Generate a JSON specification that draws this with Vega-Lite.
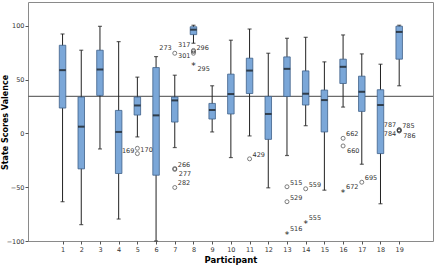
{
  "$schema": "https://vega.github.io/schema/vega-lite/v6.json",
  "width": 405,
  "height": 239,
  "autosize": {"type": "none"},
  "padding": {"left": 28, "top": 2, "right": 1, "bottom": 25},
  "background": "white",
  "config": {
    "view": {"stroke": "#8a8a8a", "strokeWidth": 1},
    "font": "DejaVu Sans",
    "axis": {"labelFont": "DejaVu Sans", "titleFont": "DejaVu Sans", "grid": false, "domain": false, "labelFontSize": 6.5, "labelColor": "#333", "tickColor": "#555", "tickSize": 3},
    "text": {"fill": "#333"}
  },
  "datasets": {
    "boxes": [
      {"participant": 1, "lower": -63.5, "q1": 23.5, "median": 58.7, "q3": 81.8, "upper": 92.3},
      {"participant": 2, "lower": -84.8, "q1": -33, "median": 6.2, "q3": 33.7, "upper": 77.2},
      {"participant": 3, "lower": -14.5, "q1": 35.2, "median": 59.3, "q3": 77.2, "upper": 99.4},
      {"participant": 4, "lower": -79.6, "q1": -37.3, "median": 1.3, "q3": 21.3, "upper": 85.2},
      {"participant": 5, "lower": -3.3, "q1": 17, "median": 25.9, "q3": 33.7, "upper": 52.2},
      {"participant": 6, "lower": -100, "q1": -38.9, "median": 16.7, "q3": 61.1, "upper": 71.3},
      {"participant": 7, "lower": -13.2, "q1": 10.5, "median": 30.6, "q3": 33.7, "upper": 54},
      {"participant": 8, "lower": 83.7, "q1": 91.7, "median": 96.3, "q3": 99, "upper": 100.4},
      {"participant": 9, "lower": 1.3, "q1": 13.3, "median": 21.7, "q3": 27.8, "upper": 44.2},
      {"participant": 10, "lower": -22.5, "q1": 18, "median": 36.5, "q3": 55, "upper": 86.5},
      {"participant": 11, "lower": -2.4, "q1": 37, "median": 58.3, "q3": 69.8, "upper": 96.9},
      {"participant": 12, "lower": -50.6, "q1": -5.6, "median": 18, "q3": 34.3, "upper": 74.4},
      {"participant": 13, "lower": -20.6, "q1": 34.3, "median": 59.9, "q3": 71, "upper": 88.3},
      {"participant": 14, "lower": 7.1, "q1": 26.3, "median": 36.8, "q3": 58, "upper": 89.2},
      {"participant": 15, "lower": -52.8, "q1": 1.3, "median": 30.9, "q3": 40.2, "upper": 66.4},
      {"participant": 16, "lower": 24.4, "q1": 46.3, "median": 61.8, "q3": 68.9, "upper": 91.4},
      {"participant": 17, "lower": -28.7, "q1": 20.4, "median": 38.6, "q3": 53.1, "upper": 73.8},
      {"participant": 18, "lower": -65.4, "q1": -18.8, "median": 26.3, "q3": 40.5, "upper": 64.2},
      {"participant": 19, "lower": 44.2, "q1": 68.9, "median": 94.2, "q3": 99.5, "upper": 100.4}
    ],
    "outliers": [
      {"participant": 5, "value": -13.9, "id": "169", "kind": "outlier"},
      {"participant": 5, "value": -18.8, "id": "170", "kind": "outlier"},
      {"participant": 7, "value": 74.4, "id": "273", "kind": "outlier"},
      {"participant": 7, "value": -32.7, "id": "266", "kind": "outlier"},
      {"participant": 7, "value": -33.5, "id": "277", "kind": "outlier"},
      {"participant": 7, "value": -50.3, "id": "282", "kind": "outlier"},
      {"participant": 8, "value": 77, "id": "317", "kind": "outlier"},
      {"participant": 8, "value": 76, "id": "296", "kind": "outlier"},
      {"participant": 8, "value": 74.4, "id": "301", "kind": "outlier"},
      {"participant": 8, "value": 64.5, "id": "295", "kind": "extreme"},
      {"participant": 11, "value": -23.7, "id": "429", "kind": "outlier"},
      {"participant": 13, "value": -49.6, "id": "515", "kind": "outlier"},
      {"participant": 13, "value": -63.5, "id": "529", "kind": "outlier"},
      {"participant": 13, "value": -92.2, "id": "516", "kind": "extreme"},
      {"participant": 14, "value": -51.5, "id": "559", "kind": "outlier"},
      {"participant": 14, "value": -82.4, "id": "555", "kind": "extreme"},
      {"participant": 16, "value": -4.6, "id": "662", "kind": "outlier"},
      {"participant": 16, "value": -11.7, "id": "660", "kind": "outlier"},
      {"participant": 16, "value": -53.7, "id": "672", "kind": "extreme"},
      {"participant": 17, "value": -45.4, "id": "695", "kind": "outlier"},
      {"participant": 19, "value": 3.4, "id": "787", "kind": "outlier"},
      {"participant": 19, "value": 3.2, "id": "785", "kind": "outlier"},
      {"participant": 19, "value": 2.4, "id": "784", "kind": "outlier"},
      {"participant": 19, "value": 2.2, "id": "786", "kind": "outlier"}
    ],
    "reference": [{"value": 34.3}]
  },
  "encoding": {
    "x": {"field": "participant", "type": "quantitative", "scale": {"domain": [-0.58, 20.54], "nice": false, "zero": false},
          "axis": {"values": [1,2,3,4,5,6,7,8,9,10,11,12,13,14,15,16,17,18,19], "title": "Participant", "titleFontSize": 8.5, "titleFontWeight": "bold", "titlePadding": 3, "labelPadding": 2, "tickCount": 19}}
  },
  "layer": [
    {
      "data": {"name": "reference"},
      "mark": {"type": "rule", "color": "#6b6b6b", "strokeWidth": 1.2},
      "encoding": {"x": null, "y": {"field": "value", "type": "quantitative", "scale": {"domain": [-100, 122], "nice": false},
        "axis": {"values": [-100, -50, 0, 50, 100], "title": "State Scores Valence", "titleFontSize": 8, "titleFontWeight": "bold", "titleBaseline": "top", "titleX": -27, "titleY": 120, "titleAngle": -90, "labelPadding": 1}}}
    },
    {
      "data": {"name": "boxes"},
      "mark": {"type": "rule", "color": "#222", "strokeWidth": 1},
      "encoding": {"y": {"field": "lower", "type": "quantitative"}, "y2": {"field": "upper"}}
    },
    {
      "data": {"name": "boxes"},
      "mark": {"type": "tick", "color": "#222", "size": 4, "thickness": 1.2, "orient": "horizontal"},
      "encoding": {"y": {"field": "upper", "type": "quantitative"}}
    },
    {
      "data": {"name": "boxes"},
      "mark": {"type": "tick", "color": "#222", "size": 4, "thickness": 1.2, "orient": "horizontal"},
      "encoding": {"y": {"field": "lower", "type": "quantitative"}}
    },
    {
      "data": {"name": "boxes"},
      "mark": {"type": "bar", "fill": "#7ba7d8", "stroke": "#3f6189", "strokeWidth": 0.8, "width": 6.5},
      "encoding": {"y": {"field": "q1", "type": "quantitative"}, "y2": {"field": "q3"}}
    },
    {
      "data": {"name": "boxes"},
      "mark": {"type": "tick", "color": "#111", "size": 6.5, "thickness": 2, "orient": "horizontal"},
      "encoding": {"y": {"field": "median", "type": "quantitative"}}
    },
    {
      "data": {"name": "outliers"},
      "transform": [{"filter": "datum.kind === 'outlier'"}],
      "mark": {"type": "point", "shape": "circle", "filled": false, "size": 16, "stroke": "#333", "strokeWidth": 0.9},
      "encoding": {"y": {"field": "value", "type": "quantitative"}}
    },
    {
      "data": {"name": "outliers"},
      "transform": [{"filter": "datum.kind === 'extreme'"}],
      "mark": {"type": "text", "text": "*", "fontSize": 9, "fill": "#222", "baseline": "middle", "dy": 2},
      "encoding": {"y": {"field": "value", "type": "quantitative"}}
    },
    {
      "data": {"name": "outliers"},
      "transform": [{"filter": {"field": "id", "oneOf": ["170", "266", "282", "296", "429", "515", "529", "516", "559", "555", "662", "672", "695", "785"]}}],
      "mark": {"type": "text", "align": "left", "baseline": "bottom", "dx": 3, "dy": -1, "fontSize": 6.5, "fill": "#333"},
      "encoding": {"y": {"field": "value", "type": "quantitative"}, "text": {"field": "id"}}
    },
    {
      "data": {"name": "outliers"},
      "transform": [{"filter": {"field": "id", "oneOf": ["277", "660", "786", "295"]}}],
      "mark": {"type": "text", "align": "left", "baseline": "top", "dx": 4, "dy": 2, "fontSize": 6.5, "fill": "#333"},
      "encoding": {"y": {"field": "value", "type": "quantitative"}, "text": {"field": "id"}}
    },
    {
      "data": {"name": "outliers"},
      "transform": [{"filter": {"field": "id", "oneOf": ["273", "317", "787"]}}],
      "mark": {"type": "text", "align": "right", "baseline": "bottom", "dx": -3, "dy": -2, "fontSize": 6.5, "fill": "#333"},
      "encoding": {"y": {"field": "value", "type": "quantitative"}, "text": {"field": "id"}}
    },
    {
      "data": {"name": "outliers"},
      "transform": [{"filter": {"field": "id", "oneOf": ["169", "301", "784"]}}],
      "mark": {"type": "text", "align": "right", "baseline": "top", "dx": -3, "dy": 0, "fontSize": 6.5, "fill": "#333"},
      "encoding": {"y": {"field": "value", "type": "quantitative"}, "text": {"field": "id"}}
    }
  ]
}
